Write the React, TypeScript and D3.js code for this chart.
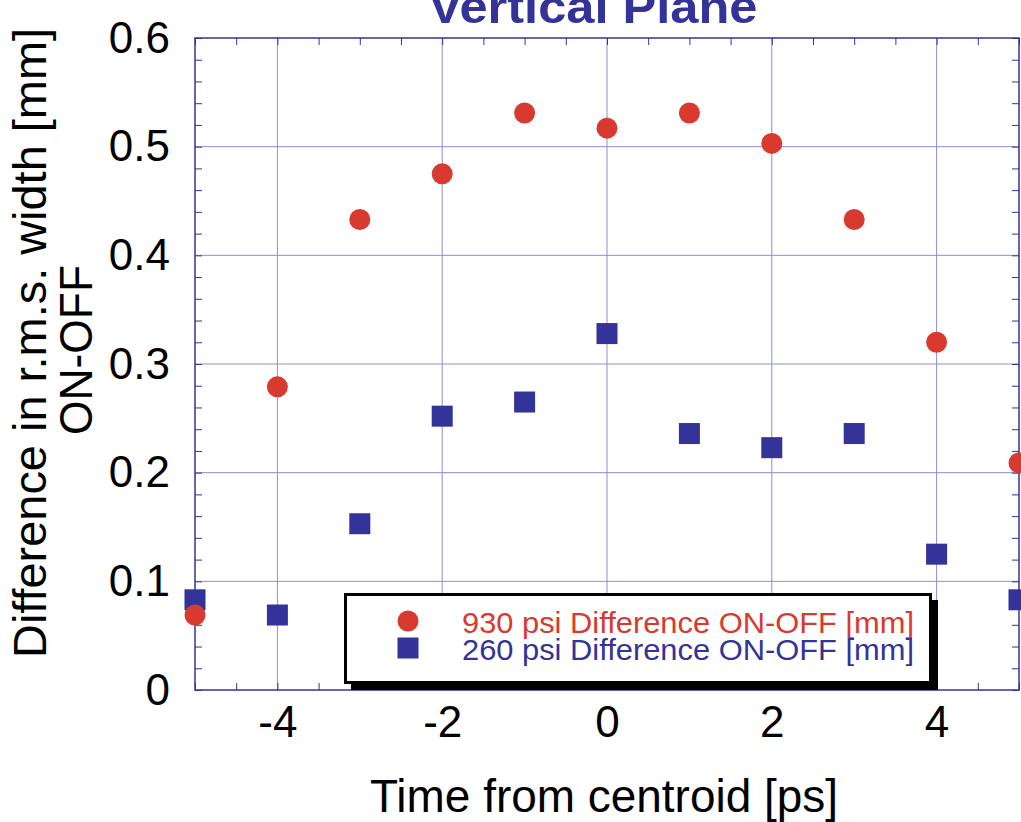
import React, { useRef, useEffect } from 'react'
import * as d3 from 'd3'

const times = [-5, -4, -3, -2, -1, 0, 1, 2, 3, 4, 5]
const diff930 = [0.069, 0.279, 0.433, 0.475, 0.531, 0.517, 0.531, 0.503, 0.433, 0.32, 0.209]
const diff260 = [0.083, 0.069, 0.153, 0.252, 0.265, 0.328, 0.236, 0.223, 0.236, 0.125, 0.083]
const xTickLabels = [-4, -2, 0, 2, 4]
const yTickLabels = [0, 0.1, 0.2, 0.3, 0.4, 0.5, 0.6]
const seriesNames = ['930 psi Difference ON-OFF [mm]', '260 psi Difference ON-OFF [mm]']

const RED = '#d93a2f'
const BLUE = '#333399'
const GRID = '#8e8ed2'
const FONT = '"Liberation Sans", Arial, Helvetica, sans-serif'

export default function App() {
  const svgRef = useRef<SVGSVGElement>(null)

  useEffect(() => {
    const width = 1021
    const height = 822
    const margin = { top: 38, right: 2, bottom: 132, left: 195 }

    const svg = d3.select(svgRef.current)
    svg.selectAll('*').remove()
    svg.attr('viewBox', `0 0 ${width} ${height}`)

    const x = d3.scaleLinear().domain([-5, 5]).range([margin.left, width - margin.right])
    const y = d3.scaleLinear().domain([0, 0.6]).range([height - margin.bottom, margin.top])
    const [x0, x1] = x.range()
    const [y0, y1] = y.range()

    // grid
    svg.append('g')
      .selectAll('line.vg')
      .data(xTickLabels)
      .join('line')
      .attr('x1', d => x(d)).attr('x2', d => x(d))
      .attr('y1', y0).attr('y2', y1)
      .attr('stroke', GRID).attr('stroke-width', 1)
    svg.append('g')
      .selectAll('line.hg')
      .data(yTickLabels.slice(1, -1))
      .join('line')
      .attr('x1', x0).attr('x2', x1)
      .attr('y1', d => y(d)).attr('y2', d => y(d))
      .attr('stroke', GRID).attr('stroke-width', 1)

    // minor ticks on all four sides, pointing inward
    const xMinor = d3.range(-5, 5.001, 0.5)
    const yMinor = d3.range(0, 0.6001, 0.02)
    const tickAxes = [
      { ax: d3.axisBottom(x).tickValues(xMinor), t: `translate(0,${y0})` },
      { ax: d3.axisTop(x).tickValues(xMinor), t: `translate(0,${y1})` },
      { ax: d3.axisLeft(y).tickValues(yMinor), t: `translate(${x0},0)` },
      { ax: d3.axisRight(y).tickValues(yMinor), t: `translate(${x1},0)` },
    ]
    tickAxes.forEach(({ ax, t }) => {
      const g = svg.append('g')
        .attr('transform', t)
        .call(ax.tickSize(-7).tickSizeOuter(0).tickFormat(() => ''))
      g.select('.domain').remove()
      g.selectAll('line').attr('stroke', BLUE).attr('stroke-width', 1)
    })

    // frame
    svg.append('rect')
      .attr('x', x0).attr('y', y1)
      .attr('width', x1 - x0).attr('height', y0 - y1)
      .attr('fill', 'none').attr('stroke', BLUE).attr('stroke-width', 1.5)

    // tick labels
    const xl = svg.append('g')
      .attr('transform', `translate(0,${y0})`)
      .call(d3.axisBottom(x).tickValues(xTickLabels).tickSize(0).tickPadding(16).tickFormat(d => String(d)))
    xl.select('.domain').remove()
    xl.selectAll('text').attr('font-family', FONT).attr('font-size', 44).attr('fill', '#000')

    const yl = svg.append('g')
      .attr('transform', `translate(${x0},0)`)
      .call(d3.axisLeft(y).tickValues(yTickLabels).tickSize(0).tickPadding(25)
        .tickFormat(d => (+d === 0 ? '0' : (+d).toFixed(1))))
    yl.select('.domain').remove()
    yl.selectAll('text').attr('font-family', FONT).attr('font-size', 44).attr('fill', '#000')

    // data
    svg.append('g')
      .selectAll('rect')
      .data(times.map((t, i) => ({ t, v: diff260[i] })))
      .join('rect')
      .attr('x', d => x(d.t) - 10.5).attr('y', d => y(d.v) - 10.5)
      .attr('width', 21).attr('height', 21)
      .attr('fill', BLUE)
    svg.append('g')
      .selectAll('circle')
      .data(times.map((t, i) => ({ t, v: diff930[i] })))
      .join('circle')
      .attr('cx', d => x(d.t)).attr('cy', d => y(d.v))
      .attr('r', 10.5)
      .attr('fill', RED)

    // legend
    const lg = svg.append('g')
    lg.append('rect')
      .attr('x', 351).attr('y', 600).attr('width', 587).attr('height', 90)
      .attr('fill', '#000')
    lg.append('rect')
      .attr('x', 345.5).attr('y', 594.5).attr('width', 585).attr('height', 88)
      .attr('fill', '#fff').attr('stroke', '#000').attr('stroke-width', 3)
    lg.append('circle').attr('cx', 408).attr('cy', 621).attr('r', 10.5).attr('fill', RED)
    lg.append('rect').attr('x', 397.5).attr('y', 637.5).attr('width', 21).attr('height', 21).attr('fill', BLUE)
    seriesNames.forEach((s, i) => {
      lg.append('text')
        .attr('x', 462).attr('y', 633 + i * 27)
        .attr('font-family', FONT).attr('font-size', 30)
        .attr('textLength', 452).attr('lengthAdjust', 'spacingAndGlyphs')
        .attr('fill', i === 0 ? RED : BLUE)
        .text(s)
    })

    // titles
    svg.append('text')
      .attr('x', 593).attr('y', 23)
      .attr('text-anchor', 'middle')
      .attr('font-family', FONT).attr('font-weight', 'bold').attr('font-size', 46)
      .attr('textLength', 329).attr('lengthAdjust', 'spacingAndGlyphs')
      .attr('fill', BLUE)
      .text('Vertical Plane')

    svg.append('text')
      .attr('x', 604).attr('y', 812)
      .attr('text-anchor', 'middle')
      .attr('font-family', FONT).attr('font-size', 46)
      .attr('textLength', 468).attr('lengthAdjust', 'spacingAndGlyphs')
      .attr('fill', '#000')
      .text('Time from centroid [ps]')

    const yTitle = svg.append('g').attr('font-family', FONT).attr('font-size', 46).attr('fill', '#000')
    yTitle.append('text')
      .attr('transform', 'translate(46,343) rotate(-90)')
      .attr('text-anchor', 'middle')
      .attr('textLength', 630).attr('lengthAdjust', 'spacingAndGlyphs')
      .text('Difference in r.m.s. width [mm]')
    yTitle.append('text')
      .attr('transform', 'translate(92,350) rotate(-90)')
      .attr('text-anchor', 'middle')
      .attr('textLength', 170).attr('lengthAdjust', 'spacingAndGlyphs')
      .text('ON-OFF')
  }, [])

  return (
    <svg
      ref={svgRef}
      width={1021}
      height={822}
      style={{ position: 'absolute', left: 0, top: 0, background: '#fff' }}
      role="img"
      aria-label="Vertical Plane: difference in r.m.s. width versus time from centroid"
    />
  )
}
